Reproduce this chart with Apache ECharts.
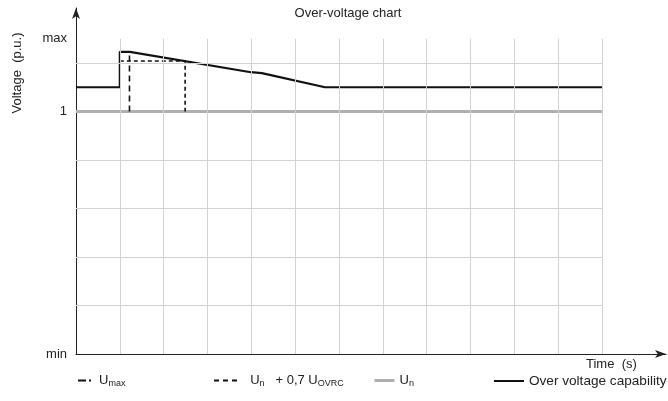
<!DOCTYPE html>
<html><head><meta charset="utf-8">
<script src="https://cdn.jsdelivr.net/npm/echarts@6/dist/echarts.min.js"></script>
<style>html,body{margin:0;padding:0;background:#fff}#c{width:668px;height:401px}</style>
</head><body><div id="c"></div>
<script>
// Time grid divisions and voltage grid levels (0 = min, 5 = "1 p.u.", 6.5 = max)
const timeGrid = [1,2,3,4,5,6,7,8,9,10,11,12];
const voltGrid = [1,2,3,4,6];
const yLabelValues = [0, 5, 6.5];
const yLabelTexts = ['min', '1', 'max'];
// Over voltage capability
const capT = [0, 1, 1, 1.23, 3.99, 4.24, 5.68, 12];
const capV = [5.5, 5.5, 6.23, 6.23, 5.81, 5.79, 5.5, 5.5];
// U max
const umaxT = [1.22, 1.22];
const umaxV = [5, 6.2];
// Un + 0,7 U_OVRC
const ovrcT = [1, 2.49, 2.49];
const ovrcV = [6.04, 6.04, 5];
// Un
const unT = [0, 12];
const unV = [5, 5];

const zip = (a, b) => a.map((v, i) => [v, b[i]]);
const gridTop = 6.5, gridRight = 12;

const gridLines = [];
timeGrid.forEach(t => gridLines.push([{coord:[t,0]},{coord:[t,gridTop]}]));
voltGrid.forEach(v => gridLines.push([{coord:[0,v]},{coord:[gridRight,v]}]));

const font = 'Liberation Sans, Arial, sans-serif';
const rich = {
  u: {fontSize: 13, color: '#222', fontFamily: font},
  s: {fontSize: 9, color: '#222', fontFamily: font, verticalAlign: 'bottom', padding: [6,0,0,0]},
  t: {fontSize: 13, color: '#222', fontFamily: font},
  w: {fontSize: 13.6, color: '#222', fontFamily: font}
};
function legendBase(left, width, name, fmt, lineStyle) {
  return {
    left: left, top: 374, padding: 0, itemWidth: width, itemHeight: 14, itemGap: 0,
    selectedMode: false,
    itemStyle: {color: 'rgba(0,0,0,0)', borderWidth: 0, opacity: 0},
    data: [{name: name, icon: 'inherit', lineStyle: lineStyle, itemStyle: {color: 'rgba(0,0,0,0)', borderWidth: 0, opacity: 0}}],
    formatter: () => fmt,
    textStyle: {rich: rich, fontFamily: font}
  };
}

const chart = echarts.init(document.getElementById('c'));
chart.setOption({
  animation: false,
  backgroundColor: '#fff',
  grid: {left: 76, right: 2, top: 8, bottom: 47},
  xAxis: {
    type: 'value', min: 0, max: 590/43.83,
    axisLine: {show: true, lineStyle: {color: '#222', width: 1}, symbol: ['none','arrow'], symbolSize: [6,11]},
    axisTick: {show: false}, axisLabel: {show: false}, splitLine: {show: false}
  },
  yAxis: {
    type: 'value', min: 0, max: 346/48.5, interval: 0.5,
    axisLine: {show: true, lineStyle: {color: '#222', width: 1}, symbol: ['none','arrow'], symbolSize: [6,11]},
    axisTick: {show: false}, splitLine: {show: false},
    axisLabel: {
      show: true, margin: 9, color: '#222', fontSize: 13, fontFamily: font,
      showMaxLabel: false, hideOverlap: false,
      formatter: v => { const i = yLabelValues.findIndex(x => Math.abs(x - v) < 1e-6); return i >= 0 ? yLabelTexts[i] : ''; }
    }
  },
  title: {
    text: 'Over-voltage chart', left: 348, top: 7, textAlign: 'center', padding: 0,
    textStyle: {fontSize: 13, fontWeight: 'normal', color: '#222', fontFamily: font}
  },
  graphic: [
    {type: 'text', x: 17, y: 73, rotation: Math.PI/2,
     style: {text: 'Voltage  (p.u.)', font: '13px ' + font, fill: '#222', align: 'center', verticalAlign: 'middle'}},
    {type: 'text', x: 586, y: 364,
     style: {text: 'Time  (s)', font: '13px ' + font, fill: '#222', align: 'left', verticalAlign: 'middle'}}
  ],
  legend: [
    legendBase(77, 16, 'umax', '{u|U}{s|max}', {color: '#111', width: 2, type: [8,3,2,10]}),
    legendBase(213, 24, 'ovrc', '{u|  U}{s|n}{t|   + 0,7 U}{s|OVRC}', {color: '#111', width: 2, type: [5,4]}),
    legendBase(373, 20, 'un', '{u|U}{s|n}', {color: '#b0b0b0', width: 3, type: 'solid'}),
    legendBase(493, 30, 'cap', '{w|Over voltage capability}', {color: '#111', width: 2, type: 'solid'})
  ],
  series: [
    {name: 'grid', type: 'line', data: [], symbol: 'none', silent: true,
     markLine: {silent: true, symbol: 'none', label: {show: false}, animation: false,
       lineStyle: {color: '#d2d2d2', width: 1, type: 'solid'}, data: gridLines}},
    {name: 'un', type: 'line', data: zip(unT, unV), symbol: 'none', lineStyle: {color: '#b0b0b0', width: 3}, itemStyle: {color: '#b0b0b0'}},
    {name: 'umax', type: 'line', data: zip(umaxT, umaxV), symbol: 'none', lineStyle: {color: '#111', width: 1.6, type: [6,4]}, itemStyle: {color: '#111'}},
    {name: 'ovrc', type: 'line', data: zip(ovrcT, ovrcV), symbol: 'none', lineStyle: {color: '#111', width: 1.6, type: [4,3]}, itemStyle: {color: '#111'}},
    {name: 'cap', type: 'line', data: zip(capT, capV), symbol: 'none', lineStyle: {color: '#111', width: 2.2}, itemStyle: {color: '#111'}}
  ]
});
</script></body></html>
